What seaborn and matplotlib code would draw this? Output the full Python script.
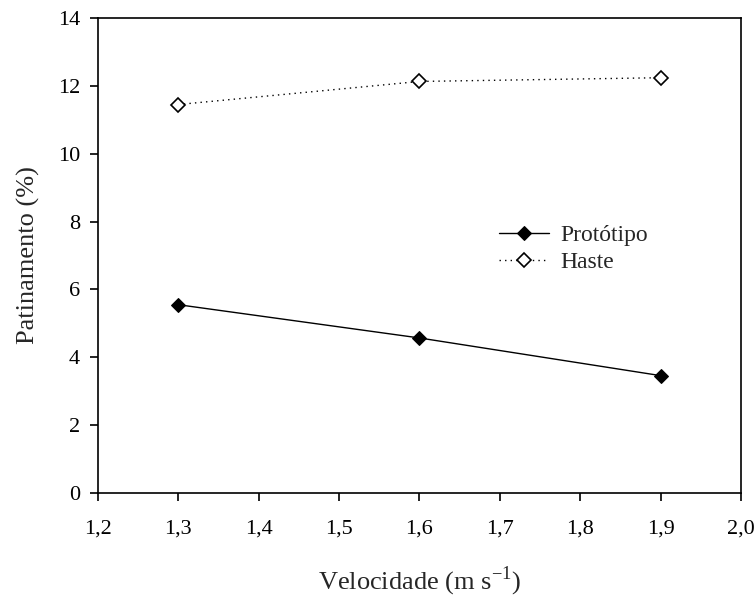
import matplotlib
matplotlib.use("Agg")
import matplotlib.pyplot as plt
import seaborn as sns
import pandas as pd

velocidade = [1.3, 1.6, 1.9]
prototipo = [5.55, 4.57, 3.46]
haste = [11.45, 12.13, 12.24]
xticks = [1.2, 1.3, 1.4, 1.5, 1.6, 1.7, 1.8, 1.9, 2.0]
xticklabels = ["1,2", "1,3", "1,4", "1,5", "1,6", "1,7", "1,8", "1,9", "2,0"]
yticks = [0, 2, 4, 6, 8, 10, 12, 14]

sns.set_style("ticks")
plt.rcParams['font.family'] = ['Liberation Serif', 'DejaVu Serif']
plt.rcParams['mathtext.fontset'] = 'custom'
plt.rcParams['mathtext.rm'] = 'Liberation Serif'

fig = plt.figure(figsize=(7.56, 6), dpi=100)
ax = fig.add_axes([0.1296, 0.1783, 0.8505, 0.7917])

df_p = pd.DataFrame({"x": velocidade, "y": prototipo})
df_h = pd.DataFrame({"x": velocidade, "y": haste})

sns.lineplot(data=df_p, x="x", y="y", ax=ax, color="black", lw=1.0,
             marker="D", markersize=7, markerfacecolor="black",
             markeredgecolor="black", label="Protótipo")
sns.lineplot(data=df_h, x="x", y="y", ax=ax, color="black", lw=1.0,
             linestyle=(0, (1, 3)), marker="D", markersize=7,
             markerfacecolor="white", markeredgecolor="black",
             markeredgewidth=1.2, label="Haste")

ax.set_xlim(1.2, 2.0)
ax.set_ylim(0, 14)
ax.set_xticks(xticks)
ax.set_xticklabels(xticklabels)
ax.set_yticks(yticks)
ax.tick_params(axis="both", direction="out", length=6, width=1.2,
               labelsize=16, colors="black")
ax.tick_params(axis="x", pad=13)
ax.tick_params(axis="y", pad=7)
for s in ax.spines.values():
    s.set_linewidth(1.2)
    s.set_color("black")

ax.set_xlabel("Velocidade (m s$^{-1}$)", fontsize=19)
ax.set_ylabel("Patinamento (%)", fontsize=19)
ax.xaxis.set_label_coords(0.5, -0.15)
ax.yaxis.set_label_coords(-0.09, 0.5)

leg = ax.legend(loc="center", bbox_to_anchor=(0.74, 0.514), frameon=False,
                fontsize=17, handlelength=2.1, handletextpad=0.5,
                labelspacing=0.22, borderpad=0)

fig.savefig("out.png", dpi=100)
